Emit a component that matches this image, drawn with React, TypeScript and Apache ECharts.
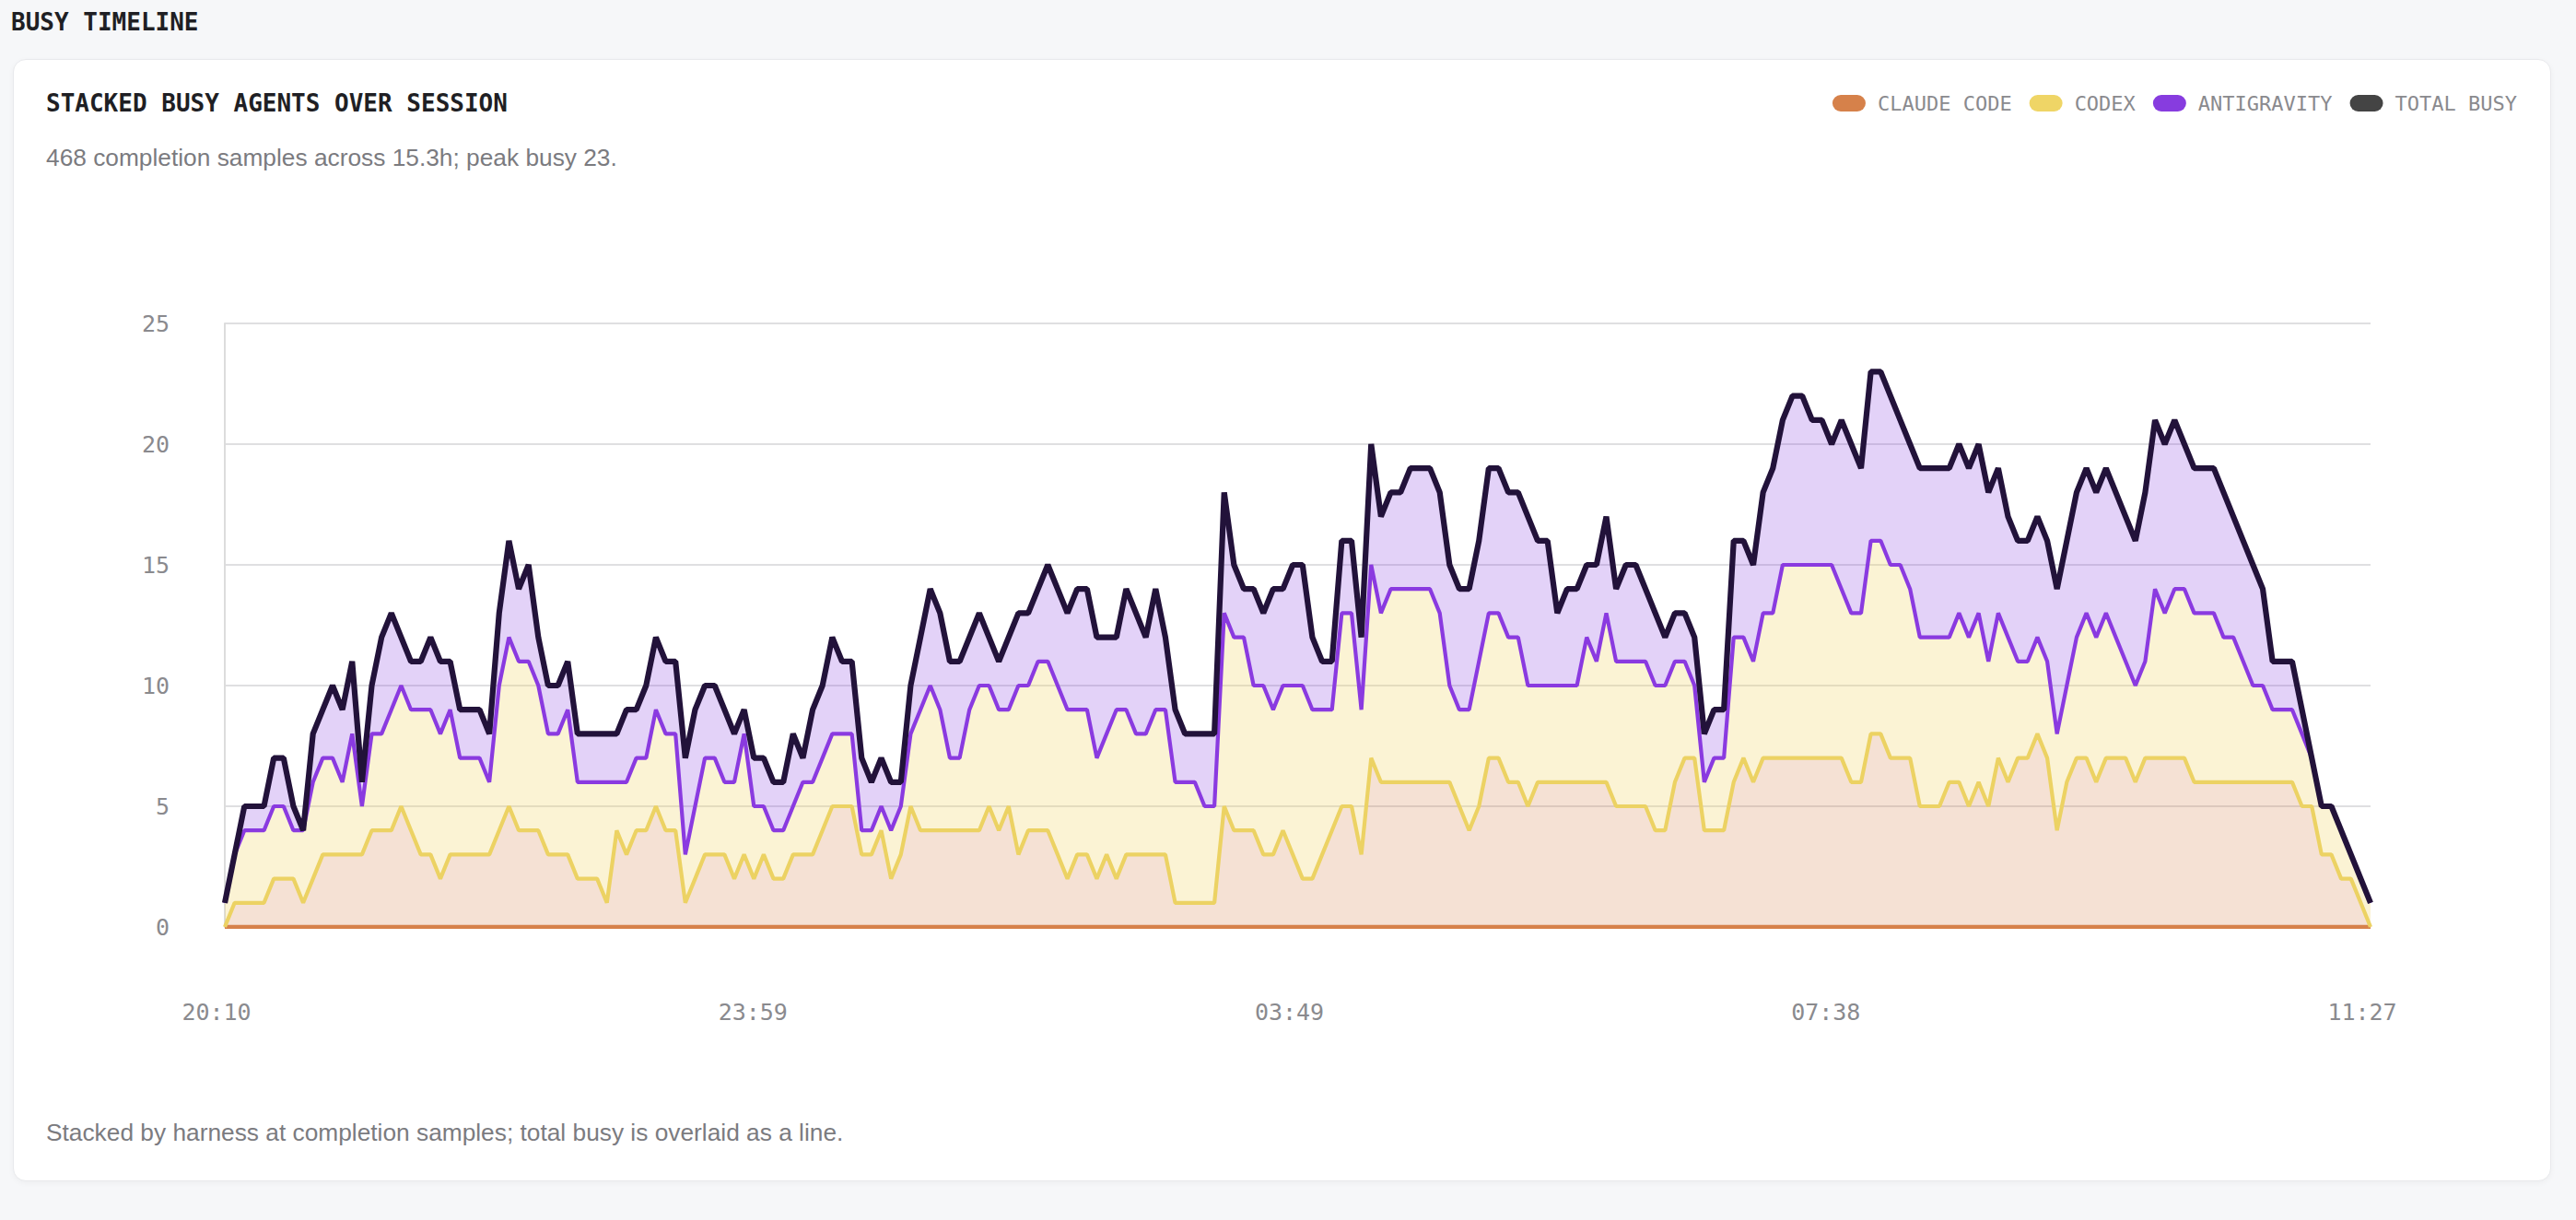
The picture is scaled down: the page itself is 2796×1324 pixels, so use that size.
import React, { useEffect, useRef } from 'react';
import * as echarts from 'echarts';

// X tick labels (session start .. end, evenly spaced)
const timeLabels = ['20:10', '23:59', '03:49', '07:38', '11:27'];

// Total busy agents per sample (dark line)
const totalBusy = [
  1, 3, 5, 5, 5, 7, 7, 5, 4, 8, 9, 10, 9, 11, 6, 10, 12, 13, 12, 11,
  11, 12, 11, 11, 9, 9, 9, 8, 13, 16, 14, 15, 12, 10, 10, 11, 8, 8, 8, 8,
  8, 9, 9, 10, 12, 11, 11, 7, 9, 10, 10, 9, 8, 9, 7, 7, 6, 6, 8, 7,
  9, 10, 12, 11, 11, 7, 6, 7, 6, 6, 10, 12, 14, 13, 11, 11, 12, 13, 12, 11,
  12, 13, 13, 14, 15, 14, 13, 14, 14, 12, 12, 12, 14, 13, 12, 14, 12, 9, 8, 8,
  8, 8, 18, 15, 14, 14, 13, 14, 14, 15, 15, 12, 11, 11, 16, 16, 12, 20, 17, 18,
  18, 19, 19, 19, 18, 15, 14, 14, 16, 19, 19, 18, 18, 17, 16, 16, 13, 14, 14, 15,
  15, 17, 14, 15, 15, 14, 13, 12, 13, 13, 12, 8, 9, 9, 16, 16, 15, 18, 19, 21,
  22, 22, 21, 21, 20, 21, 20, 19, 23, 23, 22, 21, 20, 19, 19, 19, 19, 20, 19, 20,
  18, 19, 17, 16, 16, 17, 16, 14, 16, 18, 19, 18, 19, 18, 17, 16, 18, 21, 20, 21,
  20, 19, 19, 19, 18, 17, 16, 15, 14, 11, 11, 11, 9, 7, 5, 5, 4, 3, 2, 1,
];

// Level of the purple (Antigravity) line per sample
const antigravityLine = [
  1, 3, 4, 4, 4, 5, 5, 4, 4, 6, 7, 7, 6, 8, 5, 8, 8, 9, 10, 9,
  9, 9, 8, 9, 7, 7, 7, 6, 10, 12, 11, 11, 10, 8, 8, 9, 6, 6, 6, 6,
  6, 6, 7, 7, 9, 8, 8, 3, 5, 7, 7, 6, 6, 8, 5, 5, 4, 4, 5, 6,
  6, 7, 8, 8, 8, 4, 4, 5, 4, 5, 8, 9, 10, 9, 7, 7, 9, 10, 10, 9,
  9, 10, 10, 11, 11, 10, 9, 9, 9, 7, 8, 9, 9, 8, 8, 9, 9, 6, 6, 6,
  5, 5, 13, 12, 12, 10, 10, 9, 10, 10, 10, 9, 9, 9, 13, 13, 9, 15, 13, 14,
  14, 14, 14, 14, 13, 10, 9, 9, 11, 13, 13, 12, 12, 10, 10, 10, 10, 10, 10, 12,
  11, 13, 11, 11, 11, 11, 10, 10, 11, 11, 10, 6, 7, 7, 12, 12, 11, 13, 13, 15,
  15, 15, 15, 15, 15, 14, 13, 13, 16, 16, 15, 15, 14, 12, 12, 12, 12, 13, 12, 13,
  11, 13, 12, 11, 11, 12, 11, 8, 10, 12, 13, 12, 13, 12, 11, 10, 11, 14, 13, 14,
  14, 13, 13, 13, 12, 12, 11, 10, 10, 9, 9, 9, 8, 7, 5, 5, 4, 3, 2, 1,
];

// Level of the yellow (Codex) line per sample
const codexLine = [
  0, 1, 1, 1, 1, 2, 2, 2, 1, 2, 3, 3, 3, 3, 3, 4, 4, 4, 5, 4,
  3, 3, 2, 3, 3, 3, 3, 3, 4, 5, 4, 4, 4, 3, 3, 3, 2, 2, 2, 1,
  4, 3, 4, 4, 5, 4, 4, 1, 2, 3, 3, 3, 2, 3, 2, 3, 2, 2, 3, 3,
  3, 4, 5, 5, 5, 3, 3, 4, 2, 3, 5, 4, 4, 4, 4, 4, 4, 4, 5, 4,
  5, 3, 4, 4, 4, 3, 2, 3, 3, 2, 3, 2, 3, 3, 3, 3, 3, 1, 1, 1,
  1, 1, 5, 4, 4, 4, 3, 3, 4, 3, 2, 2, 3, 4, 5, 5, 3, 7, 6, 6,
  6, 6, 6, 6, 6, 6, 5, 4, 5, 7, 7, 6, 6, 5, 6, 6, 6, 6, 6, 6,
  6, 6, 5, 5, 5, 5, 4, 4, 6, 7, 7, 4, 4, 4, 6, 7, 6, 7, 7, 7,
  7, 7, 7, 7, 7, 7, 6, 6, 8, 8, 7, 7, 7, 5, 5, 5, 6, 6, 5, 6,
  5, 7, 6, 7, 7, 8, 7, 4, 6, 7, 7, 6, 7, 7, 7, 6, 7, 7, 7, 7,
  7, 6, 6, 6, 6, 6, 6, 6, 6, 6, 6, 6, 5, 5, 3, 3, 2, 2, 1, 0,
];

// Level of the orange (Claude Code) line per sample
const claudeCodeLine = [
  0, 0, 0, 0, 0, 0, 0, 0, 0, 0, 0, 0, 0, 0, 0, 0, 0, 0, 0, 0,
  0, 0, 0, 0, 0, 0, 0, 0, 0, 0, 0, 0, 0, 0, 0, 0, 0, 0, 0, 0,
  0, 0, 0, 0, 0, 0, 0, 0, 0, 0, 0, 0, 0, 0, 0, 0, 0, 0, 0, 0,
  0, 0, 0, 0, 0, 0, 0, 0, 0, 0, 0, 0, 0, 0, 0, 0, 0, 0, 0, 0,
  0, 0, 0, 0, 0, 0, 0, 0, 0, 0, 0, 0, 0, 0, 0, 0, 0, 0, 0, 0,
  0, 0, 0, 0, 0, 0, 0, 0, 0, 0, 0, 0, 0, 0, 0, 0, 0, 0, 0, 0,
  0, 0, 0, 0, 0, 0, 0, 0, 0, 0, 0, 0, 0, 0, 0, 0, 0, 0, 0, 0,
  0, 0, 0, 0, 0, 0, 0, 0, 0, 0, 0, 0, 0, 0, 0, 0, 0, 0, 0, 0,
  0, 0, 0, 0, 0, 0, 0, 0, 0, 0, 0, 0, 0, 0, 0, 0, 0, 0, 0, 0,
  0, 0, 0, 0, 0, 0, 0, 0, 0, 0, 0, 0, 0, 0, 0, 0, 0, 0, 0, 0,
  0, 0, 0, 0, 0, 0, 0, 0, 0, 0, 0, 0, 0, 0, 0, 0, 0, 0, 0, 0,
];

const W = 2796;
const H = 1324;

export default function App() {
  const ref = useRef<HTMLDivElement>(null);

  useEffect(() => {
    document.body.style.margin = '0';
    document.body.style.background = '#f6f7f9';
    const chart = echarts.init(ref.current as HTMLDivElement, null, { renderer: 'svg' });

    const mono = "'DejaVu Sans Mono', 'Liberation Mono', monospace";
    const sans = "'Liberation Sans', Arial, sans-serif";
    const last = totalBusy.length - 1;
    const tickStep = last / (timeLabels.length - 1);
    const sampleIndex = totalBusy.map((_, i) => String(i));

    // stacked band heights between the drawn lines
    const bandPeach = codexLine.map((v, i) => v - claudeCodeLine[i]);
    const bandYellow = antigravityLine.map((v, i) => v - codexLine[i]);
    const bandPurple = totalBusy.map((v, i) => v - antigravityLine[i]);

    const pill = 'path://M9 0H27A9 9 0 0 1 27 18H9A9 9 0 0 1 9 0Z';

    const bandBase = {
      type: 'line',
      stack: 'bands',
      symbol: 'none',
      silent: true,
      xAxisIndex: 0,
      lineStyle: { opacity: 0, width: 0 },
      z: 1,
    };
    const lineBase = {
      type: 'line',
      symbol: 'none',
      silent: true,
      xAxisIndex: 0,
    };
    const textBase = { fontFamily: sans, fontSize: 26.3, fill: '#7b7b7f', verticalAlign: 'middle' };
    const headBase = { fontFamily: mono, fontWeight: 'bold', fontSize: 26, fill: '#1f1f24', verticalAlign: 'middle' };

    chart.setOption({
      animation: false,
      backgroundColor: 'transparent',
      graphic: [
        { type: 'text', x: 12, y: 24, style: { ...headBase, text: 'BUSY TIMELINE' } },
        { type: 'text', x: 50, y: 112, style: { ...headBase, text: 'STACKED BUSY AGENTS OVER SESSION' } },
        { type: 'text', x: 50, y: 171, style: { ...textBase, text: '468 completion samples across 15.3h; peak busy 23.' } },
        {
          type: 'text',
          x: 50,
          y: 1229,
          style: { ...textBase, text: 'Stacked by harness at completion samples; total busy is overlaid as a line.' },
        },
      ],
      legend: {
        right: 64,
        top: 99,
        padding: 0,
        itemWidth: 36,
        itemHeight: 18,
        itemGap: 19,
        selectedMode: false,
        icon: pill,
        formatter: (n: string) => n.toUpperCase(),
        textStyle: {
          color: '#8a8a8e',
          fontFamily: mono,
          fontSize: 22,
          lineHeight: 26,
          padding: [0, 0, 0, 8],
        },
        data: [
          { name: 'Claude Code', icon: pill, itemStyle: { color: '#d6814a' } },
          { name: 'Codex', icon: pill, itemStyle: { color: '#efd566' } },
          { name: 'Antigravity', icon: pill, itemStyle: { color: '#873cdf' } },
          { name: 'Total busy', icon: pill, itemStyle: { color: '#444444' } },
        ],
      },
      grid: { left: 244, right: W - 2573, top: 351, bottom: H - 1006, containLabel: false },
      xAxis: [
        {
          type: 'category',
          data: sampleIndex,
          boundaryGap: false,
          axisLine: { show: false },
          axisTick: { show: false },
          axisLabel: { show: false },
          splitLine: { show: false },
        },
        {
          type: 'value',
          position: 'bottom',
          min: 0,
          max: last,
          interval: tickStep,
          axisLine: { show: false },
          axisTick: { show: false },
          splitLine: { show: false },
          axisLabel: {
            showMinLabel: true,
            showMaxLabel: true,
            margin: 80,
            color: '#8a8a8e',
            fontFamily: mono,
            fontSize: 25,
            padding: [0, 18, 0, 0],
            formatter: (v: number) => {
              const k = Math.round(v / tickStep);
              return timeLabels[k] ?? '';
            },
          },
        },
      ],
      yAxis: {
        type: 'value',
        min: 0,
        max: 25,
        interval: 5,
        axisLine: { show: true, lineStyle: { color: '#dcdcdc', width: 2 } },
        axisTick: { show: false },
        splitLine: { show: true, lineStyle: { color: '#dfdfe1', width: 2 } },
        axisLabel: {
          margin: 60,
          color: '#8a8a8e',
          fontFamily: mono,
          fontSize: 25,
        },
      },
      series: [
        { ...bandBase, name: 'band-claude', data: bandPeach, areaStyle: { color: 'rgba(214,129,74,0.24)', opacity: 1 } },
        { ...bandBase, name: 'band-codex', data: bandYellow, areaStyle: { color: 'rgba(239,213,102,0.28)', opacity: 1 } },
        { ...bandBase, name: 'band-antigravity', data: bandPurple, areaStyle: { color: 'rgba(135,60,223,0.23)', opacity: 1 } },
        { ...lineBase, name: 'Claude Code', data: claudeCodeLine, z: 3, itemStyle: { color: '#d6814a' }, lineStyle: { color: '#d6814a', width: 4.5 } },
        { ...lineBase, name: 'Codex', data: codexLine, z: 4, itemStyle: { color: '#efd566' }, lineStyle: { color: '#ecd263', width: 4.2 } },
        { ...lineBase, name: 'Antigravity', data: antigravityLine, z: 5, itemStyle: { color: '#873cdf' }, lineStyle: { color: '#8a3ae0', width: 4.2 } },
        { ...lineBase, name: 'Total busy', data: totalBusy, z: 6, itemStyle: { color: '#444444' }, lineStyle: { color: '#22123a', width: 6.2 } },
      ],
    });

    return () => {
      chart.dispose();
    };
  }, []);

  return (
    <div style={{ position: 'relative', width: W, height: H, background: '#f6f7f9', overflow: 'hidden' }}>
      <div
        style={{
          position: 'absolute',
          left: 14,
          top: 64,
          width: 2755,
          height: 1218,
          background: '#ffffff',
          border: '1px solid #e8e9ec',
          borderRadius: 14,
          boxShadow: '0 2px 6px rgba(0,0,0,0.04)',
          boxSizing: 'border-box',
        }}
      />
      <div ref={ref} style={{ position: 'absolute', left: 0, top: 0, width: W, height: H }} />
    </div>
  );
}
